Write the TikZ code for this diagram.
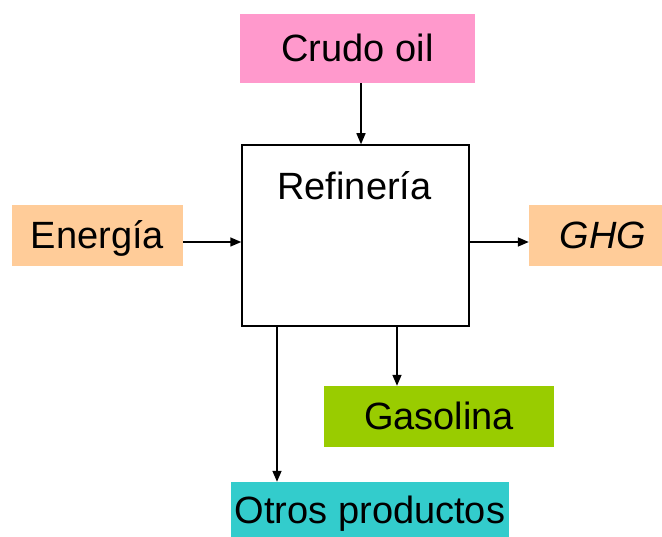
\documentclass[tikz,border=0pt]{standalone}
\usepackage{fontspec}
\setmainfont{Liberation Sans}
\usepackage{xcolor}
\usetikzlibrary{arrows.meta}

\definecolor{crudopink}{HTML}{FF99CC}
\definecolor{peach}{HTML}{FFCC99}
\definecolor{gasgreen}{HTML}{99CC00}
\definecolor{otrosteal}{HTML}{33CCCC}

\begin{document}
\begin{tikzpicture}[x=1pt, y=-1pt, font=\fontsize{38}{42}\selectfont,
  flowbox/.style={inner sep=0pt, text height=27pt, text depth=0pt},
  flowarrow/.style={line width=1.5pt, -{Triangle[length=11pt,width=9pt]}}]

\clip (0,0) rectangle (662,537);

% inputs and outputs
\node[flowbox, fill=crudopink, minimum width=235pt, minimum height=69pt] (crudo) at (357.5,48.5) {Crudo oil};
\node[flowbox, fill=peach, minimum width=171pt, minimum height=61pt] (energia) at (97.5,235.5) {Energía};
\node[flowbox, fill=peach, minimum width=148pt, minimum height=61pt] (ghg) at (603,235.5) {\itshape GHG};
\node[flowbox, fill=gasgreen, minimum width=230pt, minimum height=61pt] (gasolina) at (439,416.5) {Gasolina};
\node[flowbox, fill=otrosteal, minimum width=278pt, minimum height=56pt] (otros) at (370,510) {Otros productos};

% refinery
\node[draw, line width=1.5pt, minimum width=227pt, minimum height=181pt] (refineria) at (355.5,235.5) {};
\node[flowbox] (reflabel) at (354.5,186) {Refinería};

\draw[flowarrow] ([xshift=5.5pt]refineria.north |- crudo.south) -- ([xshift=5.5pt]refineria.north);
\draw[flowarrow] ([yshift=-6.5pt]energia.east) -- ([yshift=-6.5pt]energia.east -| refineria.west);
\draw[flowarrow] ([yshift=-6.5pt]refineria.east) -- ([yshift=-6.5pt]refineria.east -| ghg.west);
\draw[flowarrow] ([xshift=41.5pt]refineria.south) -- ([xshift=41.5pt]refineria.south |- gasolina.north);
\draw[flowarrow] ([xshift=-78.5pt]refineria.south) -- ([xshift=-78.5pt]refineria.south |- otros.north);

\end{tikzpicture}
\end{document}
